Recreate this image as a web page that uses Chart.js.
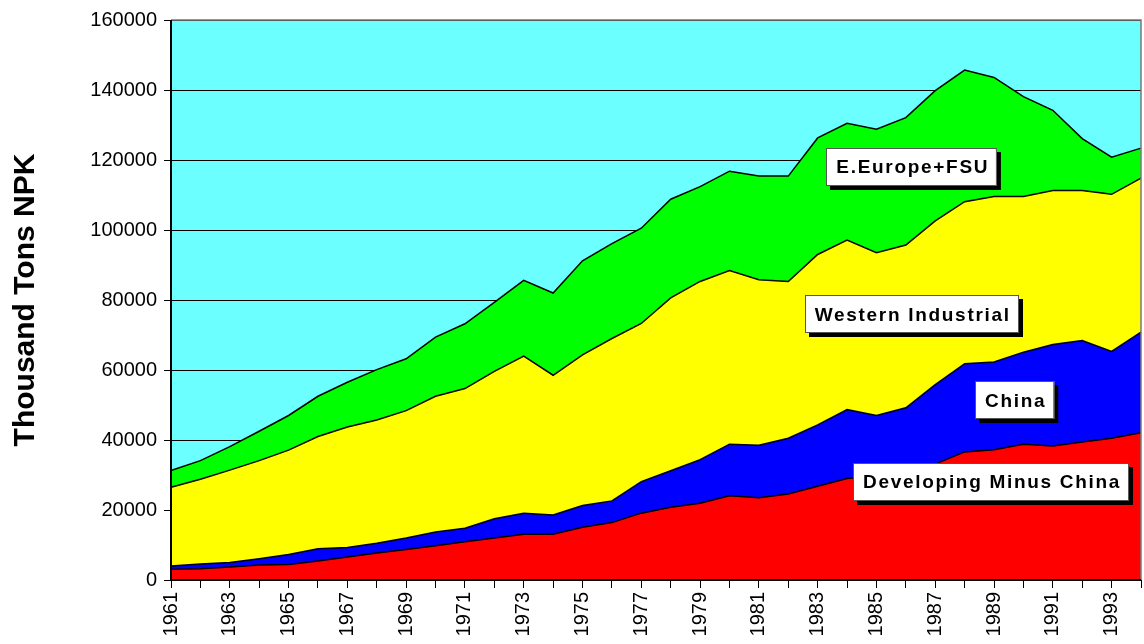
<!DOCTYPE html>
<html>
<head>
<meta charset="utf-8">
<script src="https://cdn.jsdelivr.net/npm/chart.js@4/dist/chart.umd.min.js"></script>
<style>
  html, body { margin: 0; padding: 0; background: #fff; overflow: hidden; }
  #wrap { width: 1144px; height: 644px; }
</style>
</head>
<body>
<div id="wrap"><canvas id="npkChart"></canvas></div>
<script>
const years = [1961, 1962, 1963, 1964, 1965, 1966, 1967, 1968, 1969, 1970,
    1971, 1972, 1973, 1974, 1975, 1976, 1977, 1978, 1979, 1980,
    1981, 1982, 1983, 1984, 1985, 1986, 1987, 1988, 1989, 1990,
    1991, 1992, 1993, 1994];

// thousand tons NPK (each band on its own)
const developingMinusChina = [3100, 3200, 3700, 4300, 4400, 5400, 6600, 7700, 8700, 9800,
    10900, 12000, 13100, 13100, 15100, 16400, 19100, 20800, 21900, 24100,
    23500, 24600, 26800, 29000, 29800, 31000, 33100, 36600, 37200, 38800,
    38300, 39400, 40500, 42100];
const china = [900, 1400, 1300, 1800, 2900, 3500, 2700, 2800, 3300, 3900,
    3900, 5500, 6000, 5500, 6200, 6200, 9000, 10400, 12500, 14700,
    15000, 15900, 17500, 19700, 17200, 18200, 22700, 25200, 25100, 26300,
    29000, 29000, 24800, 28700];
const westernIndustrial = [22500, 24200, 26400, 28000, 29800, 32100, 34400, 35200, 36400, 38800,
    39900, 42100, 44900, 39900, 43000, 46400, 45200, 49400, 50900, 49600,
    47300, 44800, 48700, 48400, 46500, 46500, 46800, 46300, 47300, 44500,
    44000, 42900, 44900, 44000];
const eEuropeFSU = [4800, 5300, 6700, 8400, 9900, 11500, 12800, 14400, 14800, 16900,
    18500, 19700, 21600, 23500, 26900, 27100, 27200, 28200, 27100, 28400,
    29600, 30100, 33300, 33400, 35300, 36400, 37200, 37600, 34000, 28500,
    22900, 14800, 10600, 8600];

const yTicks = [0, 20000, 40000, 60000, 80000, 100000, 120000, 140000, 160000];

// text boxes: [text, year index, value]
const boxLabels = [
    ["E.Europe+FSU", 25.2, 118000],
    ["Western Industrial", 25.2, 75900],
    ["China", 28.7, 51300],
    ["Developing Minus China", 27.9, 28000]
];

const fontFam = "'Liberation Sans', Arial, sans-serif";

const plotBack = {
    id: 'plotBack',
    beforeDraw(chart) {
        const a = chart.chartArea, ctx = chart.ctx;
        ctx.save();
        ctx.fillStyle = '#6cffff';
        ctx.fillRect(a.left, a.top, a.right - a.left, a.bottom - a.top);
        ctx.restore();
    },
    afterDatasetsDraw(chart) {
        const a = chart.chartArea, ctx = chart.ctx;
        ctx.save();
        ctx.strokeStyle = '#7a7a7a';
        ctx.lineWidth = 1.5;
        ctx.beginPath();
        ctx.moveTo(a.left, a.top);
        ctx.lineTo(a.right, a.top);
        ctx.lineTo(a.right, a.bottom);
        ctx.stroke();
        ctx.strokeStyle = '#000';
        ctx.lineWidth = 2;
        ctx.beginPath();
        ctx.moveTo(a.left, a.top);
        ctx.lineTo(a.left, a.bottom);
        ctx.lineTo(a.right, a.bottom);
        ctx.stroke();

        // labels in boxes with a drop shadow
        const xs = chart.scales.x, ys = chart.scales.y;
        ctx.font = "bold 19px " + fontFam;
        ctx.letterSpacing = '1.7px';
        ctx.textAlign = 'center';
        ctx.textBaseline = 'middle';
        boxLabels.forEach(function (b) {
            const cx = xs.getPixelForValue(b[1]);
            const cy = ys.getPixelForValue(b[2]);
            const w = ctx.measureText(b[0]).width + 18;
            const h = 38;
            const x0 = Math.round(cx - w / 2), y0 = Math.round(cy - h / 2);
            ctx.fillStyle = '#000';
            ctx.fillRect(x0 + 4, y0 + 4, w, h);
            ctx.fillStyle = '#fff';
            ctx.fillRect(x0, y0, w, h);
            ctx.strokeStyle = '#555';
            ctx.lineWidth = 1;
            ctx.strokeRect(x0 + 0.5, y0 + 0.5, w - 1, h - 1);
            ctx.fillStyle = '#000';
            ctx.fillText(b[0], cx + 1, cy + 1);
        });
        ctx.restore();
    }
};

function band(label, data, color, fill) {
    return {
        label: label,
        data: data,
        backgroundColor: color,
        borderColor: '#000',
        borderWidth: 1.5,
        pointRadius: 0,
        tension: 0,
        fill: fill
    };
}

new Chart(document.getElementById("npkChart"), {
    type: 'line',
    data: {
        labels: years,
        datasets: [
            band("Developing Minus China", developingMinusChina, '#ff0000', 'origin'),
            band("China", china, '#0000ff', '-1'),
            band("Western Industrial", westernIndustrial, '#ffff00', '-1'),
            band("E.Europe+FSU", eEuropeFSU, '#00ff00', '-1')
        ]
    },
    options: {
        responsive: true,
        maintainAspectRatio: false,
        animation: false,
        layout: { padding: { top: 20, right: 3, left: 0, bottom: 0 } },
        plugins: {
            legend: { display: false },
            tooltip: { enabled: false }
        },
        scales: {
            x: {
                offset: false,
                grid: { drawOnChartArea: false, color: '#000', tickLength: 8, lineWidth: 1 },
                border: { display: false },
                ticks: {
                    autoSkip: false,
                    maxRotation: 90,
                    minRotation: 90,
                    padding: 4,
                    color: '#000',
                    font: { family: fontFam, size: 20 },
                    callback: function (v, i) { return i % 2 === 0 ? String(years[i]) : ''; }
                },
                afterFit: function (s) {
                    s.height = 64;
                    s.paddingLeft = 0;
                    s.paddingRight = 0;
                }
            },
            y: {
                stacked: true,
                min: 0,
                max: 160000,
                afterBuildTicks: function (s) { s.ticks = yTicks.map(function (v) { return { value: v }; }); },
                grid: { color: '#000', lineWidth: 1, tickLength: 7 },
                border: { display: false },
                ticks: {
                    padding: 7,
                    color: '#000',
                    font: { family: fontFam, size: 20 },
                    callback: function (v) { return String(v); }
                },
                title: {
                    display: true,
                    text: 'Thousand Tons NPK',
                    color: '#000',
                    font: { family: fontFam, size: 30, weight: 'bold' },
                    padding: { top: 8, bottom: 0 }
                },
                afterFit: function (s) {
                    s.width = 171;
                    s.paddingTop = 0;
                    s.paddingBottom = 0;
                }
            }
        }
    },
    plugins: [plotBack]
});
</script>
</body>
</html>
